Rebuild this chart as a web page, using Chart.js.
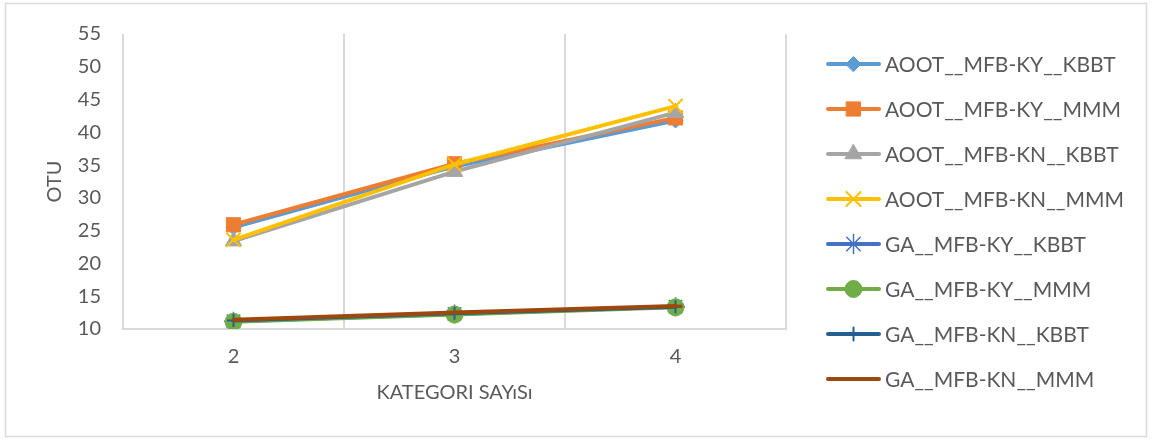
<!DOCTYPE html>
<html>
<head>
<meta charset="utf-8">
<script src="https://cdn.jsdelivr.net/npm/chart.js@4/dist/chart.umd.min.js"></script>
<style>
  html, body { margin: 0; padding: 0; background: #ffffff; }
  #wrap { position: relative; width: 1152px; height: 440px; }
</style>
</head>
<body>
<div id="wrap"><canvas id="c" width="1152" height="440"></canvas></div>
<script>
const categories = ['2', '3', '4'];
const seriesNames = [
  'AOOT__MFB-KY__KBBT',
  'AOOT__MFB-KY__MMM',
  'AOOT__MFB-KN__KBBT',
  'AOOT__MFB-KN__MMM',
  'GA__MFB-KY__KBBT',
  'GA__MFB-KY__MMM',
  'GA__MFB-KN__KBBT',
  'GA__MFB-KN__MMM'
];
const aootKyKbbt = [25.5, 34.8, 41.8];
const aootKyMmm  = [25.9, 35.2, 42.2];
const aootKnKbbt = [23.4, 34.0, 43.0];
const aootKnMmm  = [23.6, 35.1, 44.0];
const gaKyKbbt   = [11.2, 12.3, 13.4];
const gaKyMmm    = [11.1, 12.2, 13.3];
const gaKnKbbt   = [11.3, 12.4, 13.4];
const gaKnMmm    = [11.4, 12.5, 13.5];
const seriesValues = [aootKyKbbt, aootKyMmm, aootKnKbbt, aootKnMmm, gaKyKbbt, gaKyMmm, gaKnKbbt, gaKnMmm];
const yTickValues = [10, 15, 20, 25, 30, 35, 40, 45, 50, 55];

const colors = ['#5B9BD5', '#ED7D31', '#A5A5A5', '#FFC000', '#4472C4', '#70AD47', '#255E91', '#9E480E'];
const styles = [
  { pointStyle: 'rectRot', radius: 7.5, bw: 1 },
  { pointStyle: 'rect', radius: 10, bw: 1 },
  { pointStyle: 'triangle', radius: 9.5, bw: 1 },
  { pointStyle: 'crossRot', radius: 10, bw: 2 },
  { pointStyle: 'star', radius: 9.5, bw: 1.5 },
  { pointStyle: 'circle', radius: 8.5, bw: 1 },
  { pointStyle: 'cross', radius: 6.5, bw: 2 },
  { pointStyle: 'dash', radius: 7, bw: 3 }
];

const TEXT = '#595959';
const GRID = '#D9D9D9';
const FONT = 'Lato, "Open Sans", sans-serif';

const datasets = seriesNames.map((name, i) => ({
  label: name,
  data: seriesValues[i],
  borderColor: colors[i],
  backgroundColor: colors[i],
  borderWidth: 4,
  borderCapStyle: 'round',
  borderJoinStyle: 'round',
  tension: 0,
  pointStyle: styles[i].pointStyle,
  pointRadius: styles[i].radius,
  pointHoverRadius: styles[i].radius,
  pointBorderWidth: styles[i].bw,
  pointBackgroundColor: colors[i],
  pointBorderColor: colors[i],
  order: seriesNames.length - i
}));

const frameAndLegend = {
  id: 'frameAndLegend',
  beforeDraw(chart) {
    const ctx = chart.ctx;
    ctx.save();
    ctx.fillStyle = '#ffffff';
    ctx.fillRect(0, 0, chart.width, chart.height);
    ctx.strokeStyle = GRID;
    ctx.lineWidth = 1.5;
    ctx.strokeRect(5.5, 3.5, 1141, 433);
    ctx.restore();
  },
  afterDraw(chart) {
    const ctx = chart.ctx;
    const helpers = Chart.helpers;
    ctx.save();
    chart.data.datasets.forEach((ds, i) => {
      const y = 64 + 45 * i;
      ctx.strokeStyle = ds.borderColor;
      ctx.lineWidth = 4;
      ctx.lineCap = 'round';
      ctx.beginPath();
      ctx.moveTo(828, y);
      ctx.lineTo(879, y);
      ctx.stroke();
      ctx.fillStyle = ds.pointBackgroundColor;
      ctx.strokeStyle = ds.pointBorderColor;
      ctx.lineWidth = ds.pointBorderWidth;
      helpers.drawPoint(ctx, {
        pointStyle: ds.pointStyle,
        radius: ds.pointRadius,
        rotation: 0,
        borderWidth: ds.pointBorderWidth
      }, 853.5, y);
      ctx.fillStyle = TEXT;
      ctx.font = '21px ' + FONT;
      ctx.textBaseline = 'middle';
      ctx.textAlign = 'left';
      ctx.fillText(ds.label, 885, y + 1);
    });
    ctx.restore();
  }
};

new Chart(document.getElementById('c'), {
  type: 'line',
  data: { labels: categories, datasets },
  options: {
    responsive: false,
    animation: false,
    devicePixelRatio: 1,
    layout: { padding: { left: 20, right: 366, top: 33, bottom: 0 } },
    plugins: {
      legend: { display: false },
      tooltip: { enabled: false },
      title: { display: false }
    },
    scales: {
      x: {
        type: 'category',
        offset: true,
        afterFit: (s) => { s.height = 111; },
        grid: { display: true, offset: true, color: GRID, lineWidth: 2, drawTicks: false },
        border: { display: true, color: GRID, width: 2 },
        ticks: { color: TEXT, font: { family: FONT, size: 20 }, padding: 16 },
        title: {
          display: true,
          text: 'KATEGORI SAYıSı',
          color: TEXT,
          font: { family: FONT, size: 20 },
          padding: 35
        }
      },
      y: {
        min: 10,
        max: 55,
        afterFit: (s) => { s.width = 103; },
        afterBuildTicks: (s) => { s.ticks = yTickValues.map(v => ({ value: v })); },
        grid: { display: false, drawTicks: false },
        border: { display: false },
        ticks: { color: TEXT, font: { family: FONT, size: 20 }, padding: 22 },
        title: {
          display: true,
          text: 'OTU',
          color: TEXT,
          font: { family: FONT, size: 20 },
          padding: 23
        }
      }
    }
  },
  plugins: [frameAndLegend]
});
</script>
</body>
</html>
